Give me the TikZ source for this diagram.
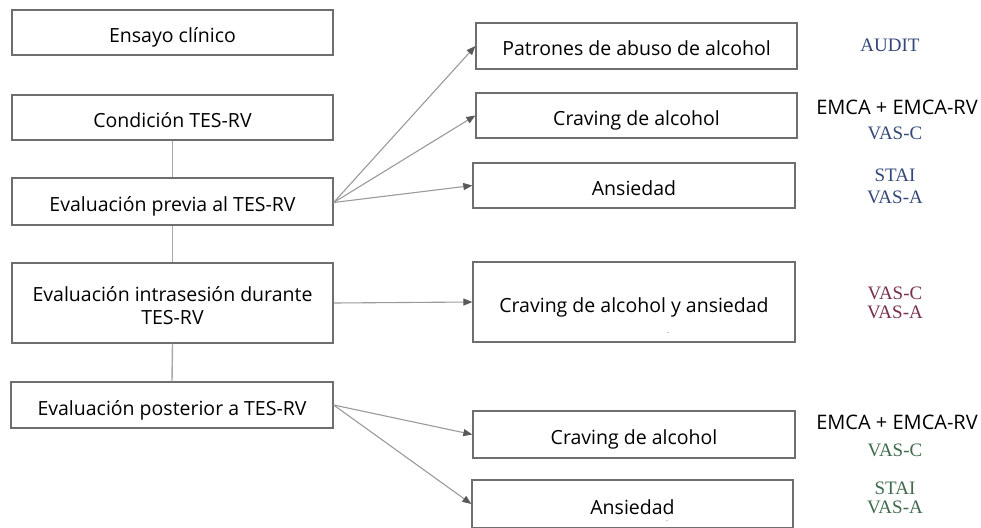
\documentclass[tikz,border=0pt]{standalone}
\usepackage{fontspec}
\setmainfont{Open Sans}
\newfontfamily\serifl{Liberation Serif}
\usetikzlibrary{arrows.meta}
\definecolor{boxgray}{HTML}{6E6E6E}
\definecolor{linegray}{HTML}{A8A8A8}
\definecolor{arrgray}{HTML}{9A9A9A}
\definecolor{navy}{HTML}{34477A}
\definecolor{maroon}{HTML}{7A2E4E}
\definecolor{dgreen}{HTML}{3F6B4C}
\tikzset{
  box/.style={draw=boxgray, line width=1.3pt, fill=white, inner sep=0pt, align=center, text height=20pt, text depth=0pt, font=\fontsize{19.5}{23}\selectfont},
  vline/.style={draw=linegray, line width=1.4pt},
  arr/.style={draw=arrgray, line width=1.1pt, -{Triangle[length=9pt,width=7pt,fill=black!65,color=black!65]}},
  meas/.style={font=\serifl\fontsize{19}{21}\selectfont, align=center, inner sep=0pt},
  emca/.style={font=\fontsize{20}{22}\selectfont, inner sep=0pt},
  tick/.style={font=\fontsize{6}{6}\selectfont, inner sep=0pt}
}
\begin{document}
\begin{tikzpicture}[x=1pt,y=-1pt]
\useasboundingbox (0,0) rectangle (981,527);
% left column
\node[box, minimum width=321pt, minimum height=45pt] (ens) at (172.5,32.5) {Ensayo clínico};
\node[box, minimum width=321pt, minimum height=45pt] (cond) at (172.5,117.5) {Condición TES-RV};
\node[box, minimum width=321pt, minimum height=47pt] (pre) at (172.5,201.5) {Evaluación previa al TES-RV};
\node[box, minimum width=321pt, minimum height=80pt, text height=43pt] (intra) at (172.5,303) {Evaluación intrasesión durante\\TES-RV};
\node[box, minimum width=322pt, minimum height=46pt] (post) at (172,405) {Evaluación posterior a TES-RV};
% right column
\node[box, minimum width=321pt, minimum height=46pt] (pat) at (636.5,46) {Patrones de abuso de alcohol};
\node[box, minimum width=321pt, minimum height=45pt] (crav1) at (636.5,115.5) {Craving de alcohol};
\node[box, minimum width=322pt, minimum height=45pt] (ans1) at (634,185.5) {Ansiedad};
\node[box, minimum width=322pt, minimum height=80pt] (cya) at (634,302) {Craving de alcohol y ansiedad};
\node[box, minimum width=322pt, minimum height=47pt] (crav2) at (634,434.5) {Craving de alcohol};
\node[box, minimum width=321pt, minimum height=48pt] (ans2) at (632.5,504) {Ansiedad};
% tiny marks
\node[tick, text=maroon] (t1) at (668,334) {-};
\node[tick, text=dgreen!70!gray] (t2) at (667,522) {-};
% vertical connectors
\draw[vline] (cond.south) -- (pre.north);
\draw[vline] (pre.south) -- (intra.north);
\draw[vline] (intra.south) -- (post.north);
% arrows
\coordinate (p0) at ([yshift=-1pt]pre.east);
\draw[arr] (p0) -- (pat.west);
\draw[arr] (p0) -- (crav1.west);
\draw[arr] (p0) -- (ans1.west);
\draw[arr] (intra.east) -- (cya.west);
\draw[arr] (post.east) -- (crav2.west);
\draw[arr] (post.east) -- (ans2.west);
% measures
\node[meas, text=navy] (m1) at (890,45) {AUDIT};
\node[emca] (m2) at (897,107) {EMCA + EMCA-RV};
\node[meas, text=navy] (m3) at (895,133) {VAS-C};
\node[meas, text=navy] (m4) at (895,175) {STAI};
\node[meas, text=navy] (m5) at (895,197) {VAS-A};
\node[meas, text=maroon] (m6) at (895,293) {VAS-C};
\node[meas, text=maroon] (m7) at (895,312) {VAS-A};
\node[emca] (m8) at (897,422) {EMCA + EMCA-RV};
\node[meas, text=dgreen] (m9) at (895,450) {VAS-C};
\node[meas, text=dgreen] (m10) at (895,488) {STAI};
\node[meas, text=dgreen] (m11) at (895,507) {VAS-A};
\end{tikzpicture}
\end{document}
